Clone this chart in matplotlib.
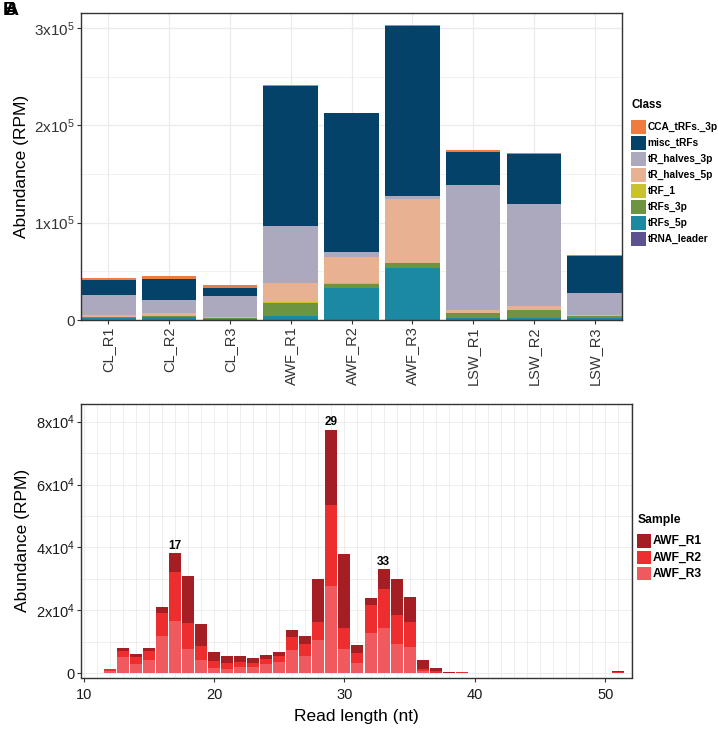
import numpy as np
import matplotlib
matplotlib.use("Agg")
from matplotlib import pyplot as plt
from matplotlib.patches import Rectangle
from matplotlib.ticker import FuncFormatter, MultipleLocator, FixedLocator

plt.rcParams['font.family'] = ['Liberation Sans', 'DejaVu Sans']
plt.rcParams['mathtext.default'] = 'regular'

# ---- panel A data (RPM) ----
samples = ['CL_R1', 'CL_R2', 'CL_R3', 'AWF_R1', 'AWF_R2', 'AWF_R3', 'LSW_R1', 'LSW_R2', 'LSW_R3']
classes = ['CCA_tRFs._3p', 'misc_tRFs', 'tR_halves_3p', 'tR_halves_5p', 'tRF_1', 'tRFs_3p', 'tRFs_5p', 'tRNA_leader']
class_colors = ['#EF7B3E', '#05426A', '#ACA8BE', '#E8B192', '#C9C22E', '#6C9441', '#1B89A2', '#5D5190']

cca_3p = [2400, 3400, 2700, 1000, 500, 500, 1700, 600, 400]
misc_trfs = [14700, 20900, 8200, 143700, 142300, 174500, 34200, 51600, 37700]
halves_3p = [21300, 14100, 21600, 59200, 4800, 3400, 127500, 104700, 23000]
halves_5p = [1700, 2400, 1000, 19800, 27400, 65700, 3100, 3700, 800]
trf_1 = [300, 300, 300, 500, 200, 300, 300, 300, 400]
trfs_3p = [1200, 1500, 1200, 13000, 4400, 4500, 5000, 7600, 1600]
trfs_5p = [1500, 2500, 800, 4300, 32900, 53700, 2200, 2400, 2300]
trna_leader = [100, 100, 100, 200, 100, 100, 100, 100, 100]

# ---- panel B data (RPM) ----
read_len = list(range(11, 52))
awf_r1 = [0, 100, 950, 950, 950, 2000, 6000, 15000, 6900, 2900,
          2100, 1800, 1500, 1200, 1200, 2300, 2500, 13600, 24000, 23700,
          2300, 2100, 6300, 11600, 7900, 2600, 1000, 250, 50, 20,
          20, 20, 15, 15, 10, 10, 10, 5, 5, 0, 300]
awf_r2 = [0, 600, 1900, 2000, 3000, 7300, 15600, 8100, 4500, 2100,
          1900, 1800, 1500, 1700, 1900, 4000, 3800, 5700, 25900, 6500,
          3300, 9100, 12500, 9200, 7900, 800, 400, 100, 300, 50,
          30, 30, 25, 20, 20, 15, 15, 10, 10, 0, 400]
awf_r3 = [200, 700, 5300, 3100, 4200, 11900, 16600, 7800, 4200, 1800,
          1500, 1900, 1900, 2800, 3600, 7400, 5500, 10600, 27600, 7800,
          3300, 12700, 14300, 9200, 8400, 700, 200, 100, 100, 50,
          30, 30, 25, 20, 20, 15, 15, 10, 10, 0, 50]
peaks = [17, 29, 33]
sample_names = ['AWF_R1', 'AWF_R2', 'AWF_R3']
sample_colors = ['#A41E24', '#EE2D2F', '#F0595D']

W, H = 718, 734
fig = plt.figure(figsize=(W / 100, H / 100), dpi=100)

grid_c = '#EBEBEB'
frame_c = '#333333'
tick_c = '#333333'


def style(ax):
    for s in ax.spines.values():
        s.set_color(frame_c)
        s.set_linewidth(1.0)
    ax.tick_params(colors=tick_c, length=3, width=0.8, pad=1.5)
    ax.set_axisbelow(True)


def sci(v, pos):
    if v == 0:
        return '0'
    e = int(np.floor(np.log10(abs(v))))
    m = v / 10 ** e
    return r'$%dx10^{%d}$' % (round(m), e)


def key_legend(title, names, colors, x0, ytitle, y0, kw, kh, step, fs, tfs):
    # legend drawn in figure pixel coordinates (origin top-left)
    fig.text(x0 / W, 1 - ytitle / H, title, fontsize=tfs, fontweight='bold',
             va='center', ha='left')
    for i, (n, c) in enumerate(zip(names, colors)):
        top = y0 + step * i
        fig.add_artist(Rectangle((x0 / W, 1 - (top + kh) / H), kw / W, kh / H,
                                 transform=fig.transFigure, facecolor=c, edgecolor='none'))
        fig.text((x0 + kw + 2) / W, 1 - (top + kh / 2) / H, n, fontsize=fs,
                 fontweight='bold', va='center', ha='left')


# ---- panel A ----
ax1 = fig.add_axes([81 / W, 1 - 320 / H, 541 / W, 307 / H])
x = np.arange(1, len(samples) + 1)
stack = [cca_3p, misc_trfs, halves_3p, halves_5p, trf_1, trfs_3p, trfs_5p, trna_leader]
bottom = np.zeros(len(samples))
for vals, col in zip(stack[::-1], class_colors[::-1]):
    ax1.bar(x, vals, 0.9, bottom=bottom, color=col, linewidth=0)
    bottom += np.array(vals)
ax1.set_xlim(0.55, 9.45)
ax1.set_ylim(0, 315200)
ax1.yaxis.set_major_locator(MultipleLocator(100000))
ax1.yaxis.set_minor_locator(MultipleLocator(50000))
ax1.yaxis.set_major_formatter(FuncFormatter(sci))
ax1.grid(True, which='major', color=grid_c, linewidth=0.9)
ax1.grid(True, which='minor', axis='y', color=grid_c, linewidth=0.5)
ax1.tick_params(axis='y', which='minor', length=0)
ax1.set_xticks(x)
ax1.set_xticklabels(samples, rotation=90, fontsize=10.5, color='#1a1a1a')
ax1.tick_params(axis='y', labelsize=11, labelcolor='#1a1a1a')
ax1.set_ylabel('Abundance (RPM)', fontsize=12.5, labelpad=4)
style(ax1)

key_legend('Class', classes, class_colors, 631, 105.3, 120, 14.7, 14.3, 16.0, 7.3, 8.3)

# ---- panel B ----
ax2 = fig.add_axes([81 / W, 1 - 677.5 / H, 551.3 / W, 273.2 / H])
xb = np.array(read_len)
bot = np.zeros(len(read_len))
for vals, col in zip([awf_r3, awf_r2, awf_r1], sample_colors[::-1]):
    ax2.bar(xb, vals, 0.92, bottom=bot, color=col, linewidth=0)
    bot += np.array(vals)
total = np.array(awf_r1) + np.array(awf_r2) + np.array(awf_r3)
for p in peaks:
    ax2.text(p, total[read_len.index(p)] + 400, str(p), ha='center', va='bottom',
             fontsize=8.5, fontweight='bold')
ax2.set_xlim(9.8, 52.07)
ax2.set_ylim(-1340, 85530)
ax2.xaxis.set_major_locator(MultipleLocator(10))
ax2.xaxis.set_minor_locator(FixedLocator(np.arange(10, 53, 1)))
ax2.yaxis.set_major_locator(MultipleLocator(20000))
ax2.yaxis.set_minor_locator(MultipleLocator(10000))
ax2.yaxis.set_major_formatter(FuncFormatter(sci))
ax2.grid(True, which='both', color=grid_c, linewidth=0.6)
style(ax2)
ax2.tick_params(which='minor', length=0)
ax2.tick_params(axis='both', labelsize=10.5, labelcolor='#1a1a1a')
ax2.tick_params(axis='x', which='major', pad=4.5)
ax2.set_xlabel('Read length (nt)', fontsize=12.5, labelpad=5)
ax2.set_ylabel('Abundance (RPM)', fontsize=12.5, labelpad=4)

key_legend('Sample', sample_names, sample_colors, 637.3, 520, 534.3, 13.4, 13.4, 16.3, 8.7, 8.7)

fig.text(3 / W, 1 - 2 / H, 'B', fontsize=14, fontweight='bold', va='top', ha='left')
fig.text(5 / W, 1 - 2 / H, 'A', fontsize=14, fontweight='bold', va='top', ha='left')

fig.savefig('out.png', dpi=100)
